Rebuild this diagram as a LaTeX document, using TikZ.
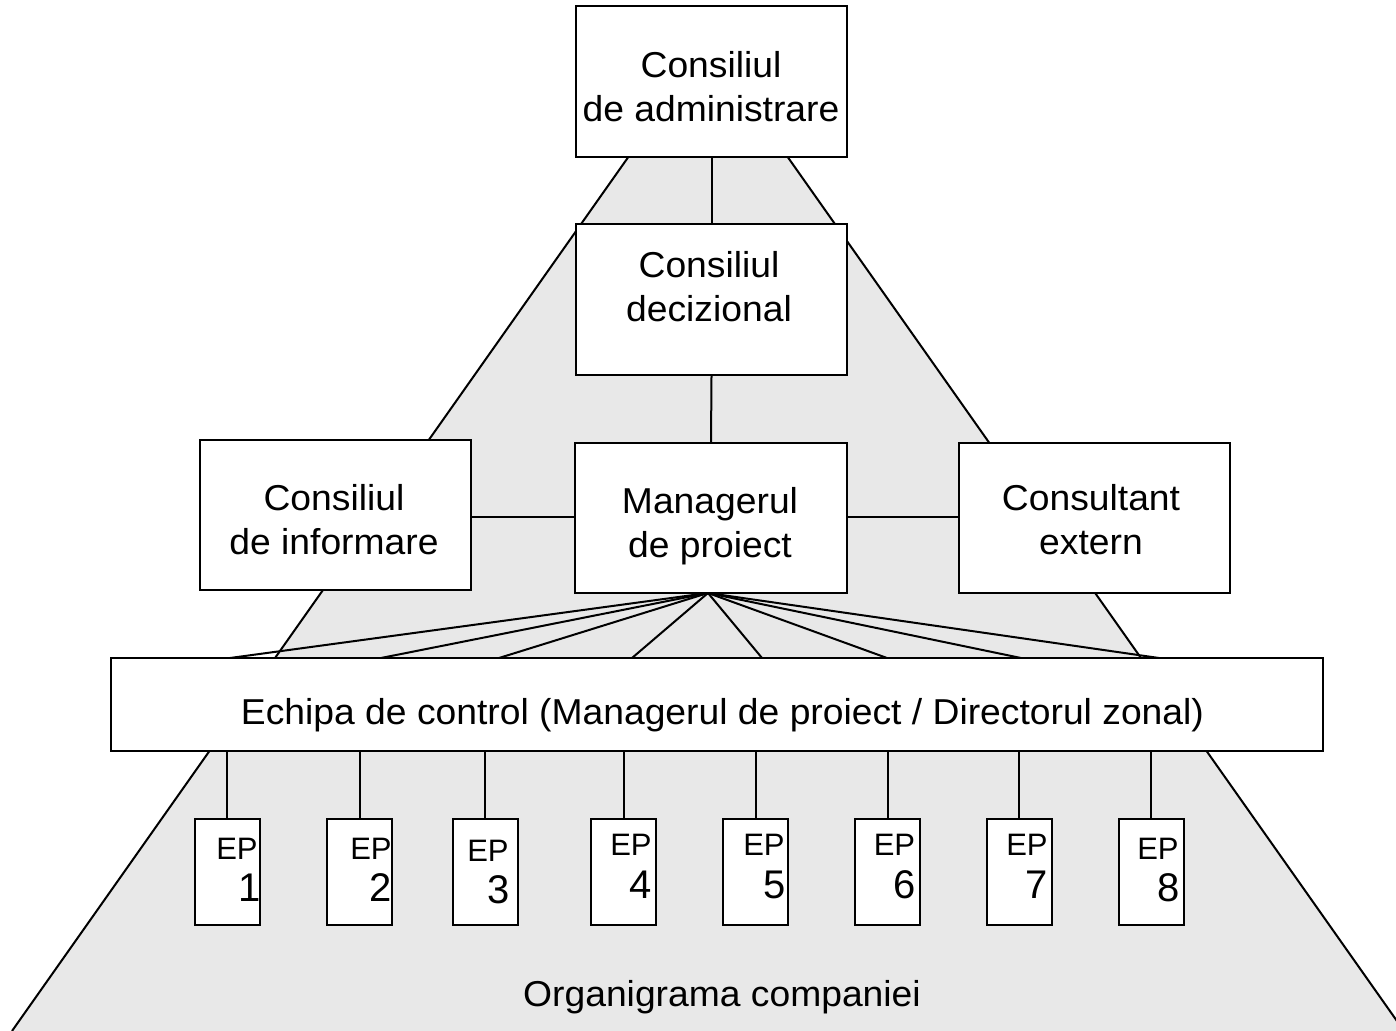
\documentclass[tikz,border=0pt]{standalone}
\usepackage{fontspec}
\setmainfont{Liberation Sans}
\newfontfamily\boxfont{Liberation Sans}[FakeStretch=1.035]
\begin{document}
\begin{tikzpicture}[x=0.5pt,y=-0.5pt,
  every node/.style={inner sep=0pt},
  frame/.style={draw=black, line width=1pt, fill=white},
  big/.style={font=\boxfont\fontsize{18}{22}\selectfont, align=center},
  eptag/.style={font=\fontsize{15.5}{18}\selectfont, anchor=base east},
  epnum/.style={font=\fontsize{20}{24}\selectfont, anchor=base east},
  link/.style={draw=black, line width=1pt}]
\definecolor{pyr}{RGB}{232,232,232}
\useasboundingbox (0,0) rectangle (1396,1031);
\clip (0,0) rectangle (1396,1031);

% company pyramid in the background
\coordinate (apex) at (708,44);
\coordinate (baseL) at (12,1031);
\coordinate (baseR) at (1404,1031);
\fill[pyr] (apex) -- (baseL) -- (baseR) -- cycle;
\draw[link] (baseL) -- (apex) -- (baseR);

% fan from the project manager to the control team
\foreach \i/\x in {1/230,2/381,3/499,4/632,5/762,6/887,7/1021,8/1159}
  \coordinate (f\i) at (\x,658);
\coordinate (hub) at (708,593);
\foreach \i in {1,...,8}
  \draw[link] (hub) -- (f\i);

% boxes
\node[frame, minimum width=135.5pt, minimum height=75.5pt] (admin) at (711.5,81.5) {};
\node[frame, minimum width=135.5pt, minimum height=75.5pt] (deciz) at (711.5,299.5) {};
\node[frame, minimum width=136pt, minimum height=75pt] (mgr) at (711,518) {};
\node[frame, minimum width=135.5pt, minimum height=75pt] (info) at (335.5,515) {};
\node[frame, minimum width=135.5pt, minimum height=75pt] (cons) at (1094.5,518) {};
\node[frame, minimum width=606pt, minimum height=46.5pt] (echipa) at (717,704.5) {};

% vertical and horizontal links
\draw[link] (admin.south) -- (deciz.north);
\draw[link] (deciz.south) -- (mgr.north);
\draw[link] (info.east |- 0,517) -- (mgr.west |- 0,517);
\draw[link] (mgr.east |- 0,517) -- (cons.west |- 0,517);

% box labels
\node[big] (adminT) at (711,87) {Consiliul\\de administrare};
\node[big] (decizT) at (709,286.5) {Consiliul\\decizional};
\node[big] (mgrT) at (710,526) {Managerul\\de proiect};
\node[big] (infoT) at (334,520) {Consiliul\\de informare};
\node[big] (consT) at (1091,519.5) {Consultant\\extern};
\node[big, anchor=base] (echipaT) at (722.5,724) {Echipa de control (Managerul de proiect / Directorul zonal)};

% project teams: box centre x, tag right/baseline, number right/baseline
\foreach \i/\cx/\tx/\ty/\nx/\ny in {1/227/258/859/261/901.7, 2/359.5/392/859/392.5/901.7,
    3/485/509/861.7/510/903, 4/623.5/652/855/652/898, 5/755.5/785/855/786/898,
    6/887.5/915.5/855/916.5/898, 7/1019/1048/855/1048/898, 8/1151/1179/859.3/1180/901.7}{
  \node[frame, minimum width=32.5pt, minimum height=53pt] (ep\i) at (\cx,872) {};
  \draw[link] (ep\i.north) -- (ep\i.north |- echipa.south);
  \node[eptag] (ep\i T) at (\tx,\ty) {EP};
  \node[epnum] (ep\i N) at (\nx,\ny) {\i};
}

\node[big, anchor=base] (orgT) at (722,1006) {Organigrama companiei};
\end{tikzpicture}
\end{document}
